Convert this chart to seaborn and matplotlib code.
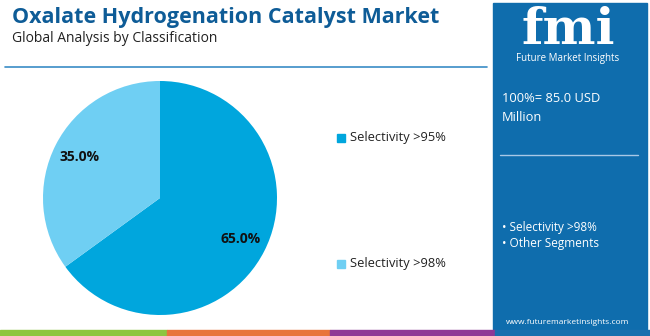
import matplotlib
matplotlib.use("Agg")
import matplotlib.pyplot as plt
import seaborn as sns
from matplotlib.patches import Rectangle

categories = ["Selectivity >95%", "Selectivity >98%"]
shares = [65.0, 35.0]
colors = ["#00A6DD", "#6FCFF3"]
title = "Oxalate Hydrogenation Catalyst Market"
subtitle = "Global Analysis by Classification"
total_text = "100%= 85.0 USD\nMillion"
bullets = ["• Selectivity >98%", "• Other Segments"]
url = "www.futuremarketinsights.com"

sns.set_theme(style="white")
plt.rcParams['font.family'] = ['Open Sans', 'DejaVu Sans']

W, H = 650, 336
fig = plt.figure(figsize=(6.5, 3.36), dpi=100)
bg = fig.add_axes([0, 0, 1, 1])
bg.set_xlim(0, W)
bg.set_ylim(H, 0)
bg.axis("off")

# title
bg.text(12, 17, title, fontsize=15.5, fontweight="bold", color="#0E5C97", va="center", ha="left")
bg.text(12, 39, subtitle, fontsize=10, color="#222222", va="center", ha="left")
bg.plot([5, 487], [67, 67], color="#3A8CC6", lw=1.2)

# right panel
bg.add_patch(Rectangle((493, 3), 154, 327, color="#0F6DAD", zorder=1))
bg.text(568, 30, "fmi", fontsize=36, fontweight="bold", color="white", family="DejaVu Serif",
        ha="center", va="center", zorder=2)
bg.text(568, 59, "Future Market Insights", fontsize=7, color="white", ha="center", va="center", zorder=2)
bg.text(502, 108, total_text, fontsize=9.3, color="white", ha="left", va="center", linespacing=1.6, zorder=2)
bg.plot([500, 638], [155, 155], color="#A8C8E6", lw=1, zorder=2)
for i, b in enumerate(bullets):
    bg.text(502, 227 + i * 16, b, fontsize=8.5, color="white", ha="left", va="center", zorder=2)
bg.text(568, 322, url, fontsize=6, color="white", ha="center", va="center", zorder=2)

# bottom stripes
stripe_colors = ["#8DC63F", "#E8743B", "#8E3A96", "#1A6FAE"]
xs = [0, 167, 330, 495, 650]
for i, c in enumerate(stripe_colors):
    bg.add_patch(Rectangle((xs[i], 330), xs[i + 1] - xs[i], 6, color=c, zorder=3))

# pie
ax = fig.add_axes([43 / W, (H - 315) / H, 234 / W, 234 / H])
wedges, texts, autotexts = ax.pie(shares, colors=colors, startangle=90, counterclock=False,
                                  autopct="%.1f%%", pctdistance=0.77,
                                  wedgeprops=dict(linewidth=0))
for t in autotexts:
    t.set_fontsize(10)
    t.set_fontweight("bold")
    t.set_color("#111111")
ax.set_xlim(-1, 1)
ax.set_ylim(-1, 1)
ax.set_aspect("equal")

# legend
leg_y = [138, 264]
for i, (cat, c) in enumerate(zip(categories, colors)):
    bg.add_patch(Rectangle((337, leg_y[i] - 4), 8, 8, color=c))
    bg.text(350, leg_y[i], cat, fontsize=9.3, color="#222222", ha="left", va="center")

fig.savefig("out.png", dpi=100)
